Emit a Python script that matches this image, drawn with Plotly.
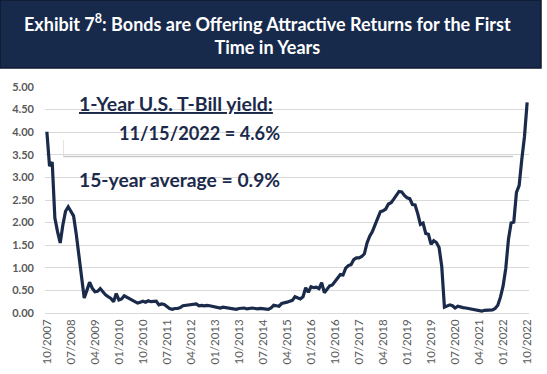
import plotly.graph_objects as go

# ---- data: 1-Year U.S. T-Bill yield, month-end, 10/2007 .. 10/2022 ----
y2007 = [4.01, 3.25, 3.34]
y2008 = [2.10, 1.80, 1.55, 1.95, 2.25, 2.35, 2.25, 2.15, 1.75, 1.25, 0.75, 0.33]
y2009 = [0.50, 0.68, 0.55, 0.47, 0.48, 0.54, 0.47, 0.40, 0.36, 0.32, 0.25, 0.43]
y2010 = [0.29, 0.31, 0.38, 0.35, 0.32, 0.28, 0.25, 0.22, 0.24, 0.26, 0.24, 0.27]
y2011 = [0.25, 0.26, 0.26, 0.18, 0.20, 0.19, 0.14, 0.10, 0.08, 0.10, 0.10, 0.12]
y2012 = [0.16, 0.17, 0.18, 0.18, 0.19, 0.20, 0.16, 0.17, 0.16, 0.17, 0.16, 0.15]
y2013 = [0.14, 0.12, 0.11, 0.13, 0.12, 0.12, 0.11, 0.10, 0.08, 0.10, 0.10, 0.11]
y2014 = [0.09, 0.10, 0.11, 0.10, 0.09, 0.10, 0.09, 0.09, 0.08, 0.11, 0.17, 0.16]
y2015 = [0.15, 0.21, 0.22, 0.24, 0.26, 0.28, 0.36, 0.33, 0.31, 0.36, 0.56, 0.46]
y2016 = [0.58, 0.56, 0.57, 0.54, 0.67, 0.45, 0.52, 0.60, 0.62, 0.70, 0.79, 0.85]
y2017 = [0.84, 0.99, 1.05, 1.07, 1.18, 1.22, 1.22, 1.25, 1.31, 1.55, 1.70, 1.80]
y2018 = [1.95, 2.10, 2.24, 2.26, 2.30, 2.41, 2.44, 2.52, 2.62, 2.69, 2.68, 2.60]
y2019 = [2.55, 2.53, 2.40, 2.39, 2.20, 1.96, 1.99, 1.76, 1.74, 1.52, 1.60, 1.56]
y2020 = [1.45, 1.03, 0.13, 0.15, 0.18, 0.16, 0.11, 0.15, 0.13, 0.12, 0.11, 0.10]
y2021 = [0.09, 0.08, 0.07, 0.05, 0.04, 0.06, 0.06, 0.06, 0.07, 0.10, 0.17, 0.35]
y2022 = [0.60, 0.99, 1.63, 1.99, 2.01, 2.67, 2.82, 3.40, 3.90, 4.66]

yields = (y2007 + y2008 + y2009 + y2010 + y2011 + y2012 + y2013 + y2014 +
          y2015 + y2016 + y2017 + y2018 + y2019 + y2020 + y2021 + y2022)

# month labels mm/yyyy starting 10/2007
months = []
mo, yr = 10, 2007
for _ in range(len(yields)):
    months.append(f"{mo:02d}/{yr}")
    mo += 1
    if mo > 12:
        mo, yr = 1, yr + 1

tick_labels = months[::9]
y_ticks = [0, 0.5, 1, 1.5, 2, 2.5, 3, 3.5, 4, 4.5, 5]

title_text = "<b>Exhibit 7<sup>8</sup>: Bonds are Offering Attractive Returns for the First<br>Time in Years</b>"
note_1 = "<b><u>1-Year U.S. T-Bill yield:</u></b>"
note_2 = "<b>11/15/2022 = 4.6%</b>"
note_3 = "<b>15-year average = 0.9%</b>"

# ---- layout geometry ----
W, H = 547, 374
L, R, T, B = 45, 18, 87, 61
PW, PH = W - L - R, H - T - B

def px(x):
    return (x - L) / PW

def py(y):
    return (H - B - y) / PH

NAVY = "#1A2A4A"
TXT = "#1B2A4A"

fig = go.Figure()
fig.add_trace(go.Scatter(
    x=months, y=yields, mode="lines",
    line=dict(color=NAVY, width=3.2),
    hoverinfo="skip", showlegend=False,
))

shapes = [
    # title bar
    dict(type="rect", xref="paper", yref="paper",
         x0=px(0), x1=px(541), y0=py(68), y1=py(0),
         fillcolor="#172A4C", line=dict(color="#0E1A30", width=1.5), layer="above"),
    # white text box (covers gridlines)
    dict(type="rect", xref="paper", yref="paper",
         x0=px(63), x1=px(319), y0=py(153.5), y1=py(80),
         fillcolor="white", line=dict(width=0), layer="between"),
    dict(type="rect", xref="paper", yref="paper",
         x0=px(63), x1=px(513), y0=py(153.5), y1=py(95),
         fillcolor="white", line=dict(width=0), layer="between"),
    # faint shadow under the box
    dict(type="line", xref="paper", yref="paper",
         x0=px(63), x1=px(513), y0=py(156.5), y1=py(156.5),
         line=dict(color="#c9c9c9", width=1.5), layer="between"),
    dict(type="line", xref="paper", yref="paper",
         x0=px(63.5), x1=px(63.5), y0=py(156.5), y1=py(140),
         line=dict(color="#e4e4e4", width=1), layer="between"),
]

annotations = [
    dict(text=title_text, xref="paper", yref="paper",
         x=px(267), y=py(34.5), xanchor="center", yanchor="middle",
         showarrow=False, align="center",
         font=dict(family="Lato", size=18, color="white")),
    dict(text=note_1, xref="paper", yref="paper",
         x=px(77), y=py(103), xanchor="left", yanchor="middle", showarrow=False,
         font=dict(family="Lato", size=19.5, color=TXT)),
    dict(text=note_2, xref="paper", yref="paper",
         x=px(117), y=py(133), xanchor="left", yanchor="middle", showarrow=False,
         font=dict(family="Lato", size=18.2, color=TXT)),
    dict(text=note_3, xref="paper", yref="paper",
         x=px(77), y=py(179), xanchor="left", yanchor="middle", showarrow=False,
         font=dict(family="Lato", size=19.3, color=TXT)),
]

fig.update_layout(
    width=W, height=H,
    margin=dict(l=L, r=R, t=T, b=B, pad=0, autoexpand=False),
    paper_bgcolor="white", plot_bgcolor="white",
    hovermode=False,
    shapes=shapes, annotations=annotations,
    xaxis=dict(
        type="category", range=[-0.7, len(yields) - 1 + 0.7],
        tickmode="array", tickvals=tick_labels, ticktext=tick_labels,
        tickangle=-90, showgrid=False, zeroline=False, showline=False,
        ticks="", ticklabelstandoff=3, automargin=False,
        tickfont=dict(family="Lato", size=11.5, color="#595959"),
    ),
    yaxis=dict(
        range=[0, 5], tickmode="array", tickvals=y_ticks,
        tickformat=".2f", showgrid=True, gridcolor="#d9d9d9", gridwidth=1,
        zeroline=True, zerolinecolor="#d9d9d9", zerolinewidth=1,
        showline=False, ticks="", ticklabelstandoff=10, automargin=False,
        tickfont=dict(family="Lato", size=11, color="#595959", weight="bold"),
    ),
)

fig.write_html("out.html",
               config={"displayModeBar": False, "staticPlot": True},
               post_script="document.body.style.margin='0';document.body.style.padding='0';")
